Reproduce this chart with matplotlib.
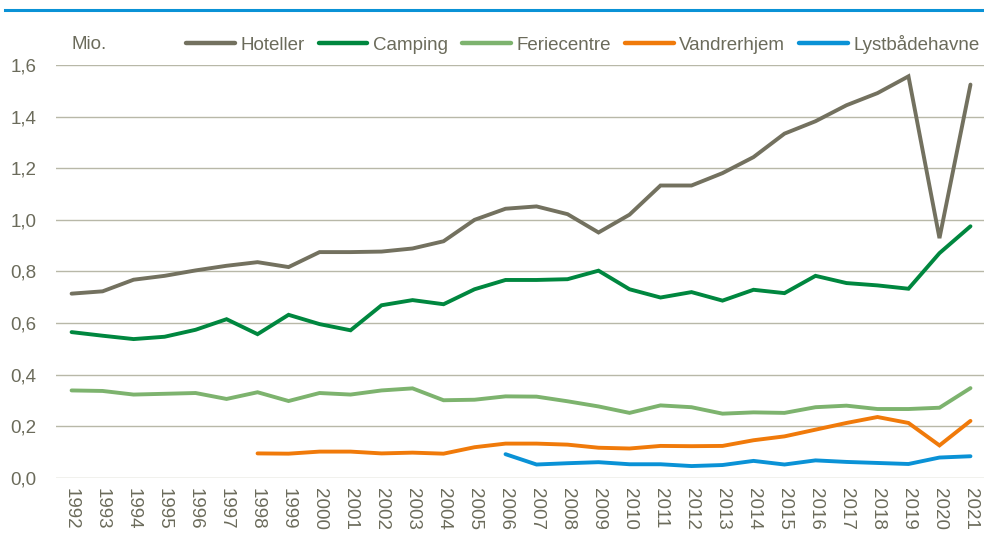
import matplotlib
matplotlib.use("Agg")
import matplotlib.pyplot as plt
from matplotlib.lines import Line2D
from matplotlib.ticker import FuncFormatter

years = list(range(1992, 2022))

hoteller = [0.714, 0.723, 0.768, 0.783, 0.804, 0.822, 0.836, 0.817, 0.875, 0.875,
            0.877, 0.889, 0.917, 1.000, 1.043, 1.052, 1.022, 0.951, 1.020, 1.133,
            1.133, 1.181, 1.243, 1.334, 1.382, 1.444, 1.491, 1.556, 0.929, 1.524]

camping = [0.565, 0.551, 0.538, 0.547, 0.574, 0.615, 0.557, 0.632, 0.596, 0.572,
           0.669, 0.689, 0.673, 0.731, 0.767, 0.767, 0.770, 0.803, 0.731, 0.699,
           0.720, 0.687, 0.729, 0.716, 0.783, 0.755, 0.746, 0.733, 0.871, 0.975]

feriecentre = [0.339, 0.337, 0.323, 0.326, 0.329, 0.306, 0.332, 0.298, 0.329, 0.323,
               0.339, 0.347, 0.301, 0.303, 0.316, 0.315, 0.297, 0.277, 0.252, 0.281,
               0.274, 0.249, 0.254, 0.252, 0.274, 0.280, 0.267, 0.267, 0.272, 0.348]

vandrer_years = list(range(1998, 2022))
vandrerhjem = [0.095, 0.094, 0.102, 0.102, 0.095, 0.098, 0.094, 0.119, 0.133, 0.133,
               0.129, 0.117, 0.114, 0.124, 0.123, 0.124, 0.146, 0.161, 0.187, 0.213,
               0.236, 0.213, 0.126, 0.221]

lyst_years = list(range(2006, 2022))
lystbaadehavne = [0.092, 0.052, 0.057, 0.061, 0.053, 0.053, 0.046, 0.050, 0.066, 0.052,
                  0.068, 0.062, 0.058, 0.054, 0.079, 0.084]

yticks = [0.0, 0.2, 0.4, 0.6, 0.8, 1.0, 1.2, 1.4, 1.6]

text_col = "#6b6b5b"
grid_col = "#b8b8a8"
fs = 13.5

plt.rcParams["font.family"] = ["Liberation Sans", "DejaVu Sans"]

fig = plt.figure(figsize=(9.84, 5.37), dpi=100)
ax = fig.add_axes([0.057, 0.110, 0.945, 0.769])

idx = {y: i for i, y in enumerate(years)}
lw = 2.8
series = [
    ("Hoteller", years, hoteller, "#73715f"),
    ("Camping", years, camping, "#00873f"),
    ("Feriecentre", years, feriecentre, "#7db36e"),
    ("Vandrerhjem", vandrer_years, vandrerhjem, "#f07a0a"),
    ("Lystbådehavne", lyst_years, lystbaadehavne, "#0a92d6"),
]
handles = []
for name, xs, ys, col in series:
    ax.plot([idx[x] for x in xs], ys, color=col, lw=lw, solid_joinstyle="miter",
            solid_capstyle="round", zorder=3)
    handles.append(Line2D([], [], color=col, lw=lw + 0.4, solid_capstyle="round", label=name))

ax.set_xlim(-0.5, len(years) - 0.5)
ax.set_ylim(0, 1.6)
ax.set_yticks(yticks)
ax.yaxis.set_major_formatter(FuncFormatter(lambda v, p: f"{v:.1f}".replace(".", ",")))
ax.set_xticks(range(len(years)))
ax.set_xticklabels([str(y) for y in years], rotation=-90)
ax.tick_params(axis="both", length=0, labelsize=fs, colors=text_col)
ax.tick_params(axis="y", pad=14)
ax.tick_params(axis="x", pad=7)
ax.grid(axis="y", color=grid_col, lw=1.0, zorder=0)
for s in ax.spines.values():
    s.set_visible(False)

fig.text(0.073, 0.918, "Mio.", fontsize=fs, color=text_col, va="center")
fig.legend(handles=handles, loc="center", bbox_to_anchor=(0.5925, 0.918), ncol=5,
           frameon=False, fontsize=fs, labelcolor=text_col, handlelength=2.6,
           handletextpad=0.3, columnspacing=0.75, borderaxespad=0)

fig.add_artist(Line2D([0.005, 1.0], [0.981, 0.981], color="#0a92d6", lw=2.2,
                      transform=fig.transFigure))

fig.savefig("out.png", dpi=100)
